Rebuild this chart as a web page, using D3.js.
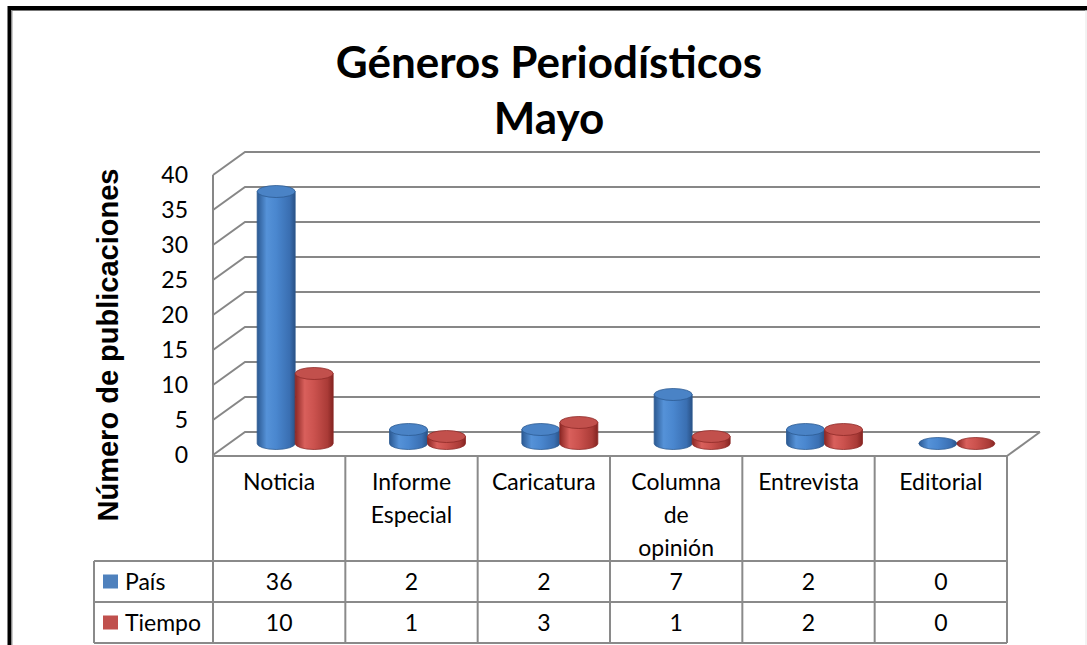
<!DOCTYPE html>
<html>
<head>
<meta charset="utf-8">
<script src="https://cdn.jsdelivr.net/npm/d3@7"></script>
<style>
  body { margin: 0; background: #fff; }
  svg { display: block; }
</style>
</head>
<body>
<div id="chart"></div>
<script>
// data
var categories = ["Noticia", "Informe Especial", "Caricatura", "Columna de opinión", "Entrevista", "Editorial"];
var categoryLines = [["Noticia"], ["Informe", "Especial"], ["Caricatura"], ["Columna", "de", "opinión"], ["Entrevista"], ["Editorial"]];
var seriesNames = ["País", "Tiempo"];
var paisValues = [36, 2, 2, 7, 2, 0];
var tiempoValues = [10, 1, 3, 1, 2, 0];
var yTicks = [0, 5, 10, 15, 20, 25, 30, 35, 40];

var W = 1087, H = 645;
var plotLeft = 213, plotRight = 1007, plotTop = 175, floorY = 455;
var depthX = 32, depthY = -23;   // offset of the back wall
var gridColor = "#878787";

var svg = d3.select("#chart").append("svg").attr("width", W).attr("height", H);

// outer frame
svg.append("path").attr("d", "M9.5,650 V8 H1100").attr("fill", "none").attr("stroke", "#000").attr("stroke-width", 4);
svg.append("line").attr("x1", 12).attr("x2", 12).attr("y1", 10).attr("y2", 645).attr("stroke", "#999").attr("stroke-width", 1);
svg.append("line").attr("x1", 12).attr("x2", 1087).attr("y1", 10.5).attr("y2", 10.5).attr("stroke", "#777").attr("stroke-width", 1);
svg.append("line").attr("x1", 1086).attr("x2", 1086).attr("y1", 10).attr("y2", 645).attr("stroke", "#e6e6e6").attr("stroke-width", 1);

var x = d3.scaleBand().domain(categories).range([plotLeft, plotRight]);
var y = d3.scaleLinear().domain([0, 40]).range([floorY, plotTop]);

// titles
svg.append("text").attr("x", 549).attr("y", 78).attr("text-anchor", "middle")
  .style("font-family", "Lato, 'Open Sans', sans-serif").style("font-weight", "bold").style("font-size", "44px")
  .text("Géneros Periodísticos");
svg.append("text").attr("x", 549).attr("y", 134).attr("text-anchor", "middle")
  .style("font-family", "Lato, 'Open Sans', sans-serif").style("font-weight", "bold").style("font-size", "44px")
  .text("Mayo");

svg.append("text")
  .attr("transform", "translate(118,345) rotate(-90)")
  .attr("text-anchor", "middle")
  .style("font-family", "'Liberation Sans', Arial, sans-serif").style("font-weight", "bold").style("font-size", "29px")
  .text("Número de publicaciones");

// walls and gridlines
var grid = svg.append("g").attr("fill", "none").attr("stroke", gridColor).attr("stroke-width", 2);
yTicks.forEach(function(t) {
  grid.append("path").attr("d",
    "M" + plotLeft + "," + y(t) + " L" + (plotLeft + depthX) + "," + (y(t) + depthY) + " H" + (plotRight + depthX + 1));
});
grid.append("line").attr("x1", plotLeft).attr("x2", plotLeft).attr("y1", y(40)).attr("y2", 643);
grid.append("path").attr("d", "M" + plotRight + "," + (floorY + 1) + " L" + (plotRight + depthX + 1) + "," + (y(0) + depthY));

// tick labels
svg.append("g").selectAll("text").data(yTicks).enter().append("text")
  .attr("x", 188).attr("y", function(d) { return y(d); }).attr("dy", "0.35em")
  .attr("text-anchor", "end")
  .style("font-family", "Lato, sans-serif").style("font-size", "23px")
  .text(function(d) { return d; });

// gradients for cylinders
var defs = svg.append("defs");
function makeGrad(id, stops) {
  var g = defs.append("linearGradient").attr("id", id).attr("x1", "0%").attr("x2", "100%").attr("y1", "0%").attr("y2", "0%");
  stops.forEach(function(s) { g.append("stop").attr("offset", s[0]).attr("stop-color", s[1]); });
}
makeGrad("gBlue", [["0%", "#2b5992"], ["25%", "#5592d8"], ["50%", "#4a87cf"], ["85%", "#3a6fb2"], ["100%", "#2a5286"]]);
makeGrad("gRed", [["0%", "#8b2724"], ["25%", "#d9605c"], ["50%", "#cb524e"], ["85%", "#aa3b37"], ["100%", "#842421"]]);

var seriesData = [
  { name: seriesNames[0], values: paisValues, grad: "url(#gBlue)", topFill: "#4a83c6", edge: "#2c5a92", key: "#4f81bd" },
  { name: seriesNames[1], values: tiempoValues, grad: "url(#gRed)", topFill: "#c2504c", edge: "#8e2a27", key: "#c0504d" }
];

var rx = 19, ry = 6;
var bars = svg.append("g");
seriesData.forEach(function(s, si) {
  s.values.forEach(function(v, i) {
    var cx = x(categories[i]) + x.bandwidth() / 2 + depthX / 2 + (si === 0 ? -rx : rx);
    var yb = y(0) + depthY / 2;
    var yt = y(v) + depthY / 2;
    var g = bars.append("g");
    if (v > 0) {
      g.append("path")
        .attr("d", "M" + (cx - rx) + "," + yt + " V" + yb +
          " A" + rx + "," + ry + " 0 0 0 " + (cx + rx) + "," + yb +
          " V" + yt + " Z")
        .attr("fill", s.grad).attr("stroke", s.edge).attr("stroke-width", 0.8);
    }
    g.append("ellipse").attr("cx", cx).attr("cy", yt).attr("rx", rx).attr("ry", ry)
      .attr("fill", v > 0 ? s.topFill : s.grad).attr("stroke", s.edge).attr("stroke-width", 0.8);
  });
});

// data table
var rowTop = floorY + 1, catBottom = 561, rowH = 41, legendLeft = 94;
var table = svg.append("g").attr("fill", "none").attr("stroke", "#8a8a8a").attr("stroke-width", 2);
table.append("line").attr("x1", plotLeft).attr("x2", plotRight).attr("y1", rowTop).attr("y2", rowTop);
[catBottom, catBottom + rowH, catBottom + 2 * rowH].forEach(function(yy) {
  table.append("line").attr("x1", legendLeft).attr("x2", plotRight).attr("y1", yy).attr("y2", yy);
});
table.append("line").attr("x1", legendLeft).attr("x2", legendLeft).attr("y1", catBottom).attr("y2", catBottom + 2 * rowH);
categories.forEach(function(c) {
  var xx = x(c) + x.bandwidth();
  table.append("line").attr("x1", xx).attr("x2", xx).attr("y1", rowTop).attr("y2", catBottom + 2 * rowH);
});

var txt = svg.append("g").style("font-family", "Lato, sans-serif").style("font-size", "23px").attr("fill", "#000");
categories.forEach(function(c, i) {
  categoryLines[i].forEach(function(line, li) {
    txt.append("text").attr("x", x(c) + x.bandwidth() / 2).attr("y", 482 + li * 33).attr("dy", "0.35em")
      .attr("text-anchor", "middle").text(line);
  });
});
seriesData.forEach(function(s, si) {
  var cy = catBottom + rowH * si + rowH / 2;
  svg.append("rect").attr("x", 103).attr("y", cy - 7).attr("width", 15).attr("height", 14).attr("fill", s.key);
  txt.append("text").attr("x", 125).attr("y", cy).attr("dy", "0.35em").text(s.name);
  s.values.forEach(function(v, i) {
    txt.append("text").attr("x", x(categories[i]) + x.bandwidth() / 2).attr("y", cy).attr("dy", "0.35em")
      .attr("text-anchor", "middle").text(v);
  });
});
</script>
</body>
</html>
